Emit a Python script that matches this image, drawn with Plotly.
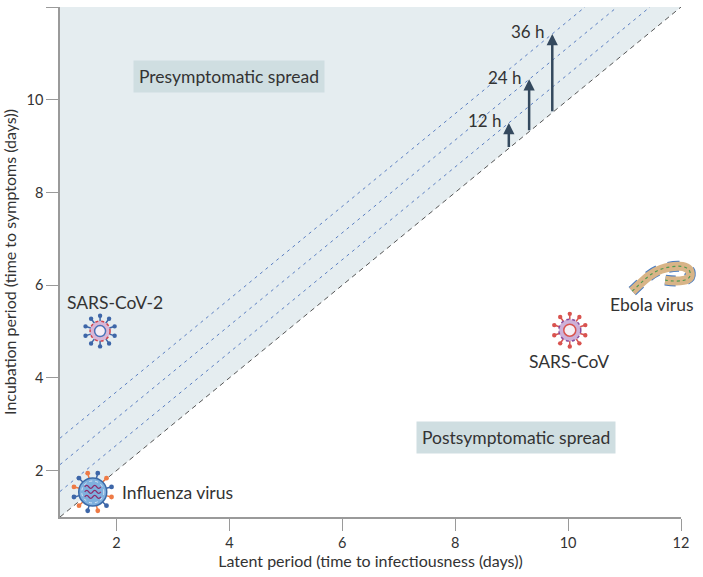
import math
import plotly.graph_objects as go

# axis range (days)
axis_min = 1
axis_max = 12
tick_vals = [2, 4, 6, 8, 10, 12]

# offset lines above the diagonal (incubation - latent, days) and their labels
lag_labels = ["12 h", "24 h", "36 h"]
lag_days = [0.55, 1.13, 1.7]
arrow_latent = [8.95, 9.31, 9.72]

# viruses
virus_names = ["SARS-CoV-2", "SARS-CoV", "Ebola virus", "Influenza virus"]
virus_latent = [1.71, 10.03, 11.65, 1.58]
virus_incubation = [5.01, 5.03, 6.13, 1.54]

FONT = "Lato, 'Open Sans', sans-serif"
TEXT = "#333333"
SHADE = "#e5edf0"
BOX = "#cfdee1"

fig = go.Figure()

# presymptomatic region (above y = x)
fig.add_trace(go.Scatter(
    x=[axis_min, axis_max, axis_min, axis_min],
    y=[axis_min, axis_max, axis_max, axis_min],
    fill="toself", fillcolor=SHADE, mode="lines", line=dict(width=0),
    hoverinfo="skip", showlegend=False,
))

# offset lines
for lag in lag_days:
    x0 = axis_min
    x1 = axis_max - lag
    fig.add_trace(go.Scatter(
        x=[x0, x1], y=[x0 + lag, x1 + lag], mode="lines",
        line=dict(color="#5b7fc2", width=1, dash="3px,4px"),
        hoverinfo="skip", showlegend=False,
    ))

# y = x
fig.add_trace(go.Scatter(
    x=[axis_min, axis_max], y=[axis_min, axis_max], mode="lines",
    line=dict(color="#555555", width=1, dash="5px,4px"),
    hoverinfo="skip", showlegend=False,
))

# arrows for 12/24/36 h
for label, lag, x in zip(lag_labels, lag_days, arrow_latent):
    fig.add_annotation(
        x=x, y=x + lag, ax=x, ay=x, xref="x", yref="y", axref="x", ayref="y",
        text="", showarrow=True, arrowhead=2, arrowsize=0.9, arrowwidth=2.5,
        arrowcolor="#34495e",
    )
    fig.add_annotation(
        x=x, y=x + lag + 0.05, xref="x", yref="y", text=label, showarrow=False,
        xanchor="right", xshift=-5, font=dict(family=FONT, size=17, color=TEXT),
    )

# region labels
fig.add_annotation(
    x=4.0, y=10.5, xref="x", yref="y", text="Presymptomatic spread",
    showarrow=False, bgcolor=BOX, borderpad=5,
    font=dict(family=FONT, size=17.5, color=TEXT),
)
fig.add_annotation(
    x=9.08, y=2.72, xref="x", yref="y", text="Postsymptomatic spread",
    showarrow=False, bgcolor=BOX, borderpad=5,
    font=dict(family=FONT, size=17.5, color=TEXT),
)


def to_paper(v):
    return (v - axis_min) / (axis_max - axis_min)


shapes = []


def px_circle(x, y, r, fill, line_color, line_width=1, dash="solid"):
    return dict(
        type="circle", xref="paper", yref="paper", xsizemode="pixel", ysizemode="pixel",
        xanchor=to_paper(x), yanchor=to_paper(y), x0=-r, x1=r, y0=-r, y1=r,
        fillcolor=fill, line=dict(color=line_color, width=line_width, dash=dash),
        layer="above",
    )


def px_path(x, y, path, line_color, line_width=1, dash="solid"):
    return dict(
        type="path", xref="paper", yref="paper", xsizemode="pixel", ysizemode="pixel",
        xanchor=to_paper(x), yanchor=to_paper(y), path=path,
        line=dict(color=line_color, width=line_width, dash=dash), layer="above",
    )


def spiky(x, y, r, n, spike, colors, ball=2.2):
    out = []
    for i in range(n):
        a = 2 * math.pi * i / n + math.pi / n
        c = colors[i % len(colors)]
        x0, y0 = r * math.cos(a), r * math.sin(a)
        x1, y1 = (r + spike) * math.cos(a), (r + spike) * math.sin(a)
        out.append(px_path(x, y, f"M {x0:.1f} {y0:.1f} L {x1:.1f} {y1:.1f}", c, 1.5))
        cx, cy = (r + spike + ball * 0.6) * math.cos(a), (r + spike + ball * 0.6) * math.sin(a)
        out.append(dict(
            type="circle", xref="paper", yref="paper", xsizemode="pixel", ysizemode="pixel",
            xanchor=to_paper(x), yanchor=to_paper(y),
            x0=cx - ball, x1=cx + ball, y0=cy - ball, y1=cy + ball,
            fillcolor=c, line=dict(width=0), layer="above",
        ))
    return out


# SARS-CoV-2
x, y = virus_latent[0], virus_incubation[0]
shapes += spiky(x, y, 9, 10, 5, ["#3d66a8"])
shapes.append(px_circle(x, y, 10, "#d9b6d6", "#d0434d", 1.5, "dot"))
shapes.append(px_circle(x, y, 5.5, "#f4eef6", "#4a72b8", 1.5))

# SARS-CoV
x, y = virus_latent[1], virus_incubation[1]
shapes += spiky(x, y, 10, 10, 5, ["#d9534f"])
shapes.append(px_circle(x, y, 11, "#cdb0d8", "#8a4c9c", 1.5, "dot"))
shapes.append(px_circle(x, y, 6, "#f6f0f5", "#d9534f", 1.5))

# Ebola
x, y = virus_latent[2], virus_incubation[2]
ebola = "M -29 -12 C -20 -4, -12 6, 0 10 C 12 14, 28 15, 29 6 C 30 -2, 18 -3, 4 -1"
shapes.append(px_path(x, y, ebola, "#4a7cc0", 11, "dot"))
shapes.append(px_path(x, y, ebola, "#d8b487", 9))
shapes.append(px_path(x, y, ebola, "#4f9a52", 1.2, "dot"))

# Influenza
x, y = virus_latent[3], virus_incubation[3]
shapes += spiky(x, y, 13, 12, 5, ["#3d66a8", "#ee7a45"], ball=2.4)
shapes.append(px_circle(x, y, 14, "#7fb0de", "#3b6aa8", 1.5))
shapes.append(px_circle(x, y, 11, "rgba(0,0,0,0)", "#e8f0f8", 0.8, "dot"))
for dy in (5, 0, -5):
    shapes.append(px_path(
        x, y, f"M -8 {dy} Q -6 {dy + 3} -4 {dy} T 0 {dy} T 4 {dy} T 8 {dy}",
        "#8c2a6c", 1.3,
    ))

fig.update_layout(shapes=shapes)

# virus labels: (x shift, y shift, anchor)
label_style = [(15, 29, "center"), (-1, -31, "center"), (-9, -25, "center"), (27, -1, "left")]
for name, lx, ly, (dx, dy, anchor) in zip(virus_names, virus_latent, virus_incubation, label_style):
    fig.add_annotation(
        x=lx, y=ly, xref="x", yref="y", text=name, showarrow=False,
        xanchor=anchor, xshift=dx, yshift=dy,
        font=dict(family=FONT, size=17.5, color=TEXT),
    )

axis_common = dict(
    range=[axis_min, axis_max], tickvals=tick_vals, showgrid=False, zeroline=False,
    showline=True, linecolor="#9a9a9a", linewidth=1.5, ticks="outside", ticklen=12,
    tickcolor="#9a9a9a", tickwidth=1, tickfont=dict(family=FONT, size=14.5, color=TEXT),
    automargin=False,
)
fig.update_xaxes(
    **axis_common,
    title=dict(text="Latent period (time to infectiousness (days))",
               font=dict(family=FONT, size=16, color=TEXT), standoff=6),
)
fig.update_yaxes(
    **axis_common,
    title=dict(text="Incubation period (time to symptoms (days))",
               font=dict(family=FONT, size=16, color=TEXT), standoff=6),
)

fig.update_layout(
    width=703, height=577,
    margin=dict(l=60, r=22, t=7, b=60),
    plot_bgcolor="white", paper_bgcolor="white",
    showlegend=False,
)

# the page body has a default 8px margin; drop it so the figure sits at the corner
fig.write_html(
    "out.html",
    config={"displayModeBar": False},
    post_script="document.body.style.margin = '0';",
)
